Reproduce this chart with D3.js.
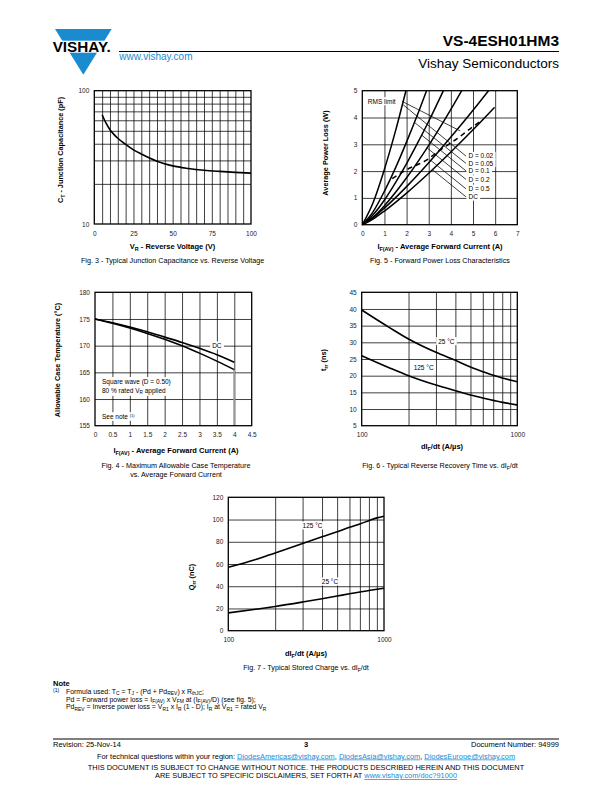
<!DOCTYPE html>
<html>
<head>
<meta charset="utf-8">
<script src="https://cdn.jsdelivr.net/npm/d3@7"></script>
<style>
  body { margin: 0; background: #fff; }
  svg { display: block; font-family: "Liberation Sans", Arial, Helvetica, sans-serif; }
</style>
</head>
<body>
<script>
// Fig. 3 - junction capacitance
const capVoltage = [5, 7.5, 10, 12.5, 15, 20, 25, 30, 40, 50, 60, 70, 80, 90, 100];
const capValue = [66, 57, 51, 47, 44, 39.5, 36, 33.5, 29.6, 27.3, 26.1, 25.3, 24.8, 24.4, 24.1];
const capXTicks = [0, 25, 50, 75, 100];
const capYTicks = [10, 100];

// Fig. 5 - forward power loss, [I F(AV), W]
const lossLabels = ["D = 0.02", "D = 0.05", "D = 0.1", "D = 0.2", "D = 0.5", "DC"];
const lossD002 = [[0, 0], [0.5, 0.85], [1, 2.07], [1.5, 3.5], [1.97, 5]];
const lossD005 = [[0, 0], [0.5, 0.5], [1, 1.25], [1.5, 2.12], [2, 3.09], [2.5, 4.12], [2.9, 5]];
const lossD01 = [[0, 0], [0.5, 0.38], [1, 0.92], [1.5, 1.57], [2, 2.28], [2.5, 3.05], [3, 3.86], [3.66, 5]];
const lossD02 = [[0, 0], [0.5, 0.29], [1, 0.71], [2, 1.75], [3, 2.96], [4, 4.3], [4.49, 5]];
const lossD05 = [[0, 0], [0.5, 0.27], [1, 0.62], [2, 1.42], [3, 2.31], [4, 3.27], [5, 4.27], [5.7, 5]];
const lossDC = [[0, 0], [0.5, 0.22], [1, 0.51], [2, 1.18], [3, 1.92], [4, 2.71], [5, 3.54], [5.97, 4.38]];
const rmsLimit = [[1.35, 1.72], [2, 2.05], [2.9, 2.41], [3.4, 2.72], [4.3, 3.22], [5, 3.66], [5.45, 3.93]];
const lossXTicks = [0, 1, 2, 3, 4, 5, 6, 7];
const lossYTicks = [0, 1, 2, 3, 4, 5];

// Fig. 4 - allowable case temperature
const caseCurrent = [0, 0.5, 1, 1.5, 2, 2.5, 3, 3.5, 4];
const caseDC = [175, 174.3, 173.5, 172.6, 171.6, 170.6, 169.5, 168.3, 166.9];
const caseSquare = [175, 174.2, 173.3, 172.3, 171.2, 170.0, 168.6, 167.1, 165.5];
const caseXTicks = [0, 0.5, 1, 1.5, 2, 2.5, 3, 3.5, 4, 4.5];
const caseYTicks = [155, 160, 165, 170, 175, 180];

// Fig. 6 / Fig. 7 - dIF/dt sweeps
const didt = [100, 150, 200, 300, 400, 500, 600, 700, 800, 900, 1000];
const trr25 = [39.7, 34.5, 31, 27, 24.6, 22.6, 21.2, 20.1, 19.3, 18.7, 18.2];
const trr125 = [26, 22.4, 20, 17.2, 15.5, 14.2, 13.3, 12.6, 12, 11.6, 11.2];
const trrYTicks = [5, 10, 15, 20, 25, 30, 35, 40, 45];
const qrr25 = [16, 19.3, 21.8, 25.8, 28.8, 31.2, 33.2, 34.8, 36.2, 37.3, 38.2];
const qrr125 = [57, 64, 70, 78.5, 84.5, 89, 93, 96, 99, 101.5, 103];
const qrrYTicks = [0, 20, 40, 60, 80, 100, 120];
const logXTicks = [100, 1000];

const blue = "#1b8bd0";
const svg = d3.select("body").append("svg")
    .attr("width", 612)
    .attr("height", 792);

// text with _{sub} and ^{sup} pieces
function rich(t, str, fs, drop) {
    const parts = str.split(/(_\{[^}]*\}|\^\{[^}]*\})/).filter(s => s.length);
    let shift = 0;
    parts.forEach(p => {
        let dy = 0, s = p, size = fs;
        if (p.startsWith("_{")) { s = p.slice(2, -1); size = fs * 0.72; dy = fs * (drop || 0.28); }
        else if (p.startsWith("^{")) { s = p.slice(2, -1); size = fs * 0.62; dy = -fs * 0.4; }
        t.append("tspan").attr("dy", dy - shift).attr("font-size", size).text(s);
        shift = dy;
    });
}

function addText(x, y, str, opt) {
    opt = opt || {};
    const fs = opt.size || 7;
    const t = svg.append("text")
        .attr("x", x).attr("y", y)
        .attr("font-size", fs)
        .attr("text-anchor", opt.anchor || "start")
        .attr("font-weight", opt.bold ? "bold" : null)
        .attr("fill", opt.fill || "#000");
    if (opt.rotate) t.attr("transform", `rotate(-90,${x},${y})`);
    rich(t, str, fs, opt.drop);
    return t;
}

// label with a white box behind it, cutting the grid
function boxedLabel(x, y, str, fs, anchor) {
    const bg = svg.append("rect").attr("fill", "#fff");
    const t = addText(x, y, str, {size: fs, anchor: anchor || "start"});
    const bb = t.node().getBBox();
    bg.attr("x", bb.x - 2).attr("y", bb.y - 0.5).attr("width", bb.width + 4).attr("height", bb.height + 1);
    return t;
}

function gridAndTicks(box, x, y, xGrid, yGrid, xTicks, yTicks) {
    const h = box.b - box.t, w = box.r - box.l;
    svg.append("g")
        .attr("transform", `translate(0,${box.b})`)
        .call(d3.axisBottom(x).tickValues(xGrid).tickSize(-h).tickFormat(""))
        .call(a => a.select(".domain").remove())
        .selectAll("line").attr("stroke", "#000").attr("stroke-width", 0.75);
    svg.append("g")
        .attr("transform", `translate(${box.l},0)`)
        .call(d3.axisLeft(y).tickValues(yGrid).tickSize(-w).tickFormat(""))
        .call(a => a.select(".domain").remove())
        .selectAll("line").attr("stroke", "#000").attr("stroke-width", 0.75);

    svg.append("g")
        .attr("transform", `translate(0,${box.b})`)
        .call(d3.axisBottom(x).tickValues(xTicks).tickSize(0).tickPadding(7).tickFormat(d => d))
        .call(a => a.select(".domain").remove())
        .attr("font-size", 6.5)
        .attr("font-family", null)
        .selectAll("text").attr("fill", "#222");
    svg.append("g")
        .attr("transform", `translate(${box.l},0)`)
        .call(d3.axisLeft(y).tickValues(yTicks).tickSize(0).tickPadding(5).tickFormat(d => d))
        .call(a => a.select(".domain").remove())
        .attr("font-size", 6.5)
        .attr("font-family", null)
        .selectAll("text").attr("fill", "#222");
}

function frame(box) {
    svg.append("rect")
        .attr("x", box.l).attr("y", box.t)
        .attr("width", box.r - box.l).attr("height", box.b - box.t)
        .attr("fill", "none").attr("stroke", "#000").attr("stroke-width", 1.3);
}

function curve(pts, x, y, opt) {
    opt = opt || {};
    svg.append("path")
        .datum(pts)
        .attr("d", d3.line().x(d => x(d[0])).y(d => y(d[1])).curve(d3.curveMonotoneX))
        .attr("fill", "none")
        .attr("stroke", opt.color || "#000")
        .attr("stroke-width", opt.width || 1.6)
        .attr("stroke-dasharray", opt.dash || null);
}

// ---------------- header ----------------
svg.append("path")
    .attr("d", "M55,29 L111.7,29 L83.3,74.7 Z")
    .attr("fill", blue);
svg.append("rect").attr("x", 50).attr("y", 40.7).attr("width", 66).attr("height", 12).attr("fill", "#fff");
svg.append("text").attr("x", 52.7).attr("y", 52)
    .attr("font-size", 14.5).attr("font-weight", "bold")
    .attr("textLength", 58).attr("lengthAdjust", "spacingAndGlyphs")
    .text("VISHAY.");
svg.append("line").attr("x1", 119).attr("x2", 559).attr("y1", 51.5).attr("y2", 51.5)
    .attr("stroke", "#000").attr("stroke-width", 1);
addText(119.3, 60, "www.vishay.com", {size: 10, fill: blue});
addText(559, 46, "VS-4ESH01HM3", {size: 15.5, bold: true, anchor: "end"});
addText(559, 68, "Vishay Semiconductors", {size: 13.5, anchor: "end"});

// ---------------- Fig. 3 ----------------
const box3 = {l: 94.3, r: 251, t: 90.7, b: 224};
const x3 = d3.scaleLinear().domain([0, 100]).range([box3.l, box3.r]);
const y3 = d3.scaleLog().domain([10, 100]).range([box3.b, box3.t]);
gridAndTicks(box3, x3, y3, d3.range(5, 100, 5), [20, 30, 40, 50, 60, 70, 80, 90], capXTicks, capYTicks);
curve(capVoltage.map((v, i) => [v, capValue[i]]), x3, y3);
frame(box3);
addText(63.4, 150, "C_{T} - Junction Capacitance (pF)", {size: 7.3, bold: true, anchor: "middle", rotate: true});
addText(172.6, 248.5, "V_{R} - Reverse Voltage (V)", {size: 7.5, bold: true, anchor: "middle"});
addText(172.6, 263, "Fig. 3 - Typical Junction Capacitance vs. Reverse Voltage", {size: 7.2, anchor: "middle"});

// ---------------- Fig. 5 ----------------
const box5 = {l: 362.3, r: 517.3, t: 90.7, b: 224.7};
const x5 = d3.scaleLinear().domain([0, 7]).range([box5.l, box5.r]);
const y5 = d3.scaleLinear().domain([0, 5]).range([box5.b, box5.t]);
gridAndTicks(box5, x5, y5, lossXTicks.slice(1, -1), lossYTicks.slice(1, -1), lossXTicks, lossYTicks);

// labels and leader lines
const labelX = 4.75;
const labelY = [2.56, 2.29, 2.01, 1.69, 1.34, 1.04];
const leaderEnd = [[1.85, 4.47], [2.35, 3.82], [2.67, 3.35], [2.92, 2.87], [3.09, 2.4], [3.17, 2.05]];
lossLabels.forEach((lab, i) => {
    svg.append("line")
        .attr("x1", x5(labelX) - 1.5).attr("y1", y5(labelY[i]))
        .attr("x2", x5(leaderEnd[i][0])).attr("y2", y5(leaderEnd[i][1]))
        .attr("stroke", "#000").attr("stroke-width", 0.75);
});
lossLabels.forEach((lab, i) => {
    boxedLabel(x5(labelX) + 1, y5(labelY[i]) + 2.3, lab, 6.5);
});
svg.append("line")
    .attr("x1", x5(1.8)).attr("y1", y5(4.6))
    .attr("x2", x5(4.42)).attr("y2", y5(3.5))
    .attr("stroke", "#000").attr("stroke-width", 0.75);
boxedLabel(x5(0.25), y5(4.6) + 2.3, "RMS limit", 6.5);

[lossD002, lossD005, lossD01, lossD02, lossD05, lossDC].forEach(s => curve(s, x5, y5, {width: 1.5}));
curve(rmsLimit, x5, y5, {width: 1.5, dash: "5,4"});
frame(box5);
addText(327.7, 153, "Average Power Loss (W)", {size: 7.3, bold: true, anchor: "middle", rotate: true});
addText(440, 248.5, "I_{F(AV)} - Average Forward Current (A)", {size: 7.5, bold: true, anchor: "middle"});
addText(440, 263, "Fig. 5 - Forward Power Loss Characteristics", {size: 7.2, anchor: "middle"});

// ---------------- Fig. 4 ----------------
const box4 = {l: 95, r: 251.7, t: 292.3, b: 425.7};
const x4 = d3.scaleLinear().domain([0, 4.5]).range([box4.l, box4.r]);
const y4 = d3.scaleLinear().domain([155, 180]).range([box4.b, box4.t]);
gridAndTicks(box4, x4, y4, caseXTicks.slice(1, -1), caseYTicks.slice(1, -1), caseXTicks, caseYTicks);
boxedLabel(x4(0.2), y4(162.9), "Square wave (D = 0.50)", 6.5);
boxedLabel(x4(0.2), y4(161.5) + 1.5, "80 % rated V_{R} applied", 6.5);
boxedLabel(x4(0.2), y4(156.2), "See note ^{(1)}", 6.5);
boxedLabel(x4(3.5), y4(170) + 2.3, "DC", 6.5, "middle");
curve(caseCurrent.map((c, i) => [c, caseDC[i]]), x4, y4);
curve(caseCurrent.map((c, i) => [c, caseSquare[i]]), x4, y4);
svg.append("line")
    .attr("x1", x4(4)).attr("x2", x4(4))
    .attr("y1", y4(caseSquare[caseSquare.length - 1])).attr("y2", y4(155))
    .attr("stroke", "#999").attr("stroke-width", 2);
frame(box4);
addText(60, 360, "Allowable Case Temperature (°C)", {size: 7.3, bold: true, anchor: "middle", rotate: true});
addText(176, 452.5, "I_{F(AV)} - Average Forward Current (A)", {size: 7.5, bold: true, anchor: "middle"});
addText(176, 468, "Fig. 4 - Maximum Allowable Case Temperature", {size: 7.2, anchor: "middle"});
addText(176, 476.5, "vs. Average Forward Current", {size: 7.2, anchor: "middle"});

// ---------------- Fig. 6 ----------------
const box6 = {l: 361.7, r: 517.3, t: 292.3, b: 425.7};
const x6 = d3.scaleLog().domain([100, 1000]).range([box6.l, box6.r]);
const y6 = d3.scaleLinear().domain([5, 45]).range([box6.b, box6.t]);
gridAndTicks(box6, x6, y6, [200, 300, 400, 500, 600, 700, 800, 900], trrYTicks.slice(1, -1), logXTicks, trrYTicks);
boxedLabel(x6(350), y6(30.3) + 2.3, "25 °C", 6.5, "middle");
boxedLabel(x6(250), y6(22.5) + 2.3, "125 °C", 6.5, "middle");
curve(didt.map((d, i) => [d, trr25[i]]), x6, y6);
curve(didt.map((d, i) => [d, trr125[i]]), x6, y6);
frame(box6);
addText(326, 360, "t_{rr} (ns)", {size: 7.3, bold: true, anchor: "middle", rotate: true});
addText(442, 449, "dI_{F}/dt (A/µs)", {size: 7.5, bold: true, anchor: "middle"});
addText(440, 468, "Fig. 6 - Typical Reverse Recovery Time vs. dI_{F}/dt", {size: 7.2, anchor: "middle"});

// ---------------- Fig. 7 ----------------
const box7 = {l: 228.3, r: 384, t: 497.3, b: 630.7};
const x7 = d3.scaleLog().domain([100, 1000]).range([box7.l, box7.r]);
const y7 = d3.scaleLinear().domain([0, 120]).range([box7.b, box7.t]);
gridAndTicks(box7, x7, y7, [200, 300, 400, 500, 600, 700, 800, 900], qrrYTicks.slice(1, -1), logXTicks, qrrYTicks);
boxedLabel(x7(300) + 10, y7(94.5) + 2.3, "125 °C", 6.5, "middle");
boxedLabel(x7(450), y7(44.1) + 2.3, "25 °C", 6.5, "middle");
curve(didt.map((d, i) => [d, qrr25[i]]), x7, y7);
curve(didt.map((d, i) => [d, qrr125[i]]), x7, y7);
frame(box7);
addText(194.4, 577, "Q_{rr} (nC)", {size: 7.3, bold: true, anchor: "middle", rotate: true});
addText(306, 655.5, "dI_{F}/dt (A/µs)", {size: 7.5, bold: true, anchor: "middle"});
addText(306, 670, "Fig. 7 - Typical Stored Charge vs. dI_{F}/dt", {size: 7.2, anchor: "middle"});

// ---------------- note ----------------
addText(53, 685.5, "Note", {size: 7.5, bold: true});
addText(53, 692, "(1)", {size: 5});
addText(66, 694, "Formula used: T_{C} = T_{J} - (Pd + Pd_{REV}) x R_{thJC};", {size: 6.9, drop: 0.2});
addText(66, 701.6, "Pd = Forward power loss = I_{F(AV)} x V_{FM} at (I_{F(AV)}/D) (see fig. 5);", {size: 6.9, drop: 0.2});
addText(66, 709.2, "Pd_{REV} = Inverse power loss = V_{R1} x I_{R} (1 - D); I_{R} at V_{R1} = rated V_{R}", {size: 6.9, drop: 0.2});

// ---------------- footer ----------------
svg.append("line").attr("x1", 53).attr("x2", 559).attr("y1", 739).attr("y2", 739)
    .attr("stroke", "#000").attr("stroke-width", 1);
addText(53, 746.5, "Revision: 25-Nov-14", {size: 7.5});
addText(306, 747, "3", {size: 7.5, bold: true, anchor: "middle"});
addText(559, 746.5, "Document Number: 94999", {size: 7.5, anchor: "end"});

const f2 = svg.append("text").attr("x", 306).attr("y", 758.5).attr("font-size", 7.4).attr("text-anchor", "middle");
f2.append("tspan").text("For technical questions within your region: ");
f2.append("tspan").attr("fill", blue).attr("text-decoration", "underline").text("DiodesAmericas@vishay.com");
f2.append("tspan").text(", ");
f2.append("tspan").attr("fill", blue).attr("text-decoration", "underline").text("DiodesAsia@vishay.com");
f2.append("tspan").text(", ");
f2.append("tspan").attr("fill", blue).attr("text-decoration", "underline").text("DiodesEurope@vishay.com");

addText(306, 770, "THIS DOCUMENT IS SUBJECT TO CHANGE WITHOUT NOTICE. THE PRODUCTS DESCRIBED HEREIN AND THIS DOCUMENT", {size: 7.4, anchor: "middle"});
const f4 = svg.append("text").attr("x", 306).attr("y", 778).attr("font-size", 7.4).attr("text-anchor", "middle");
f4.append("tspan").text("ARE SUBJECT TO SPECIFIC DISCLAIMERS, SET FORTH AT ");
f4.append("tspan").attr("fill", blue).attr("text-decoration", "underline").text("www.vishay.com/doc?91000");
</script>
</body>
</html>
